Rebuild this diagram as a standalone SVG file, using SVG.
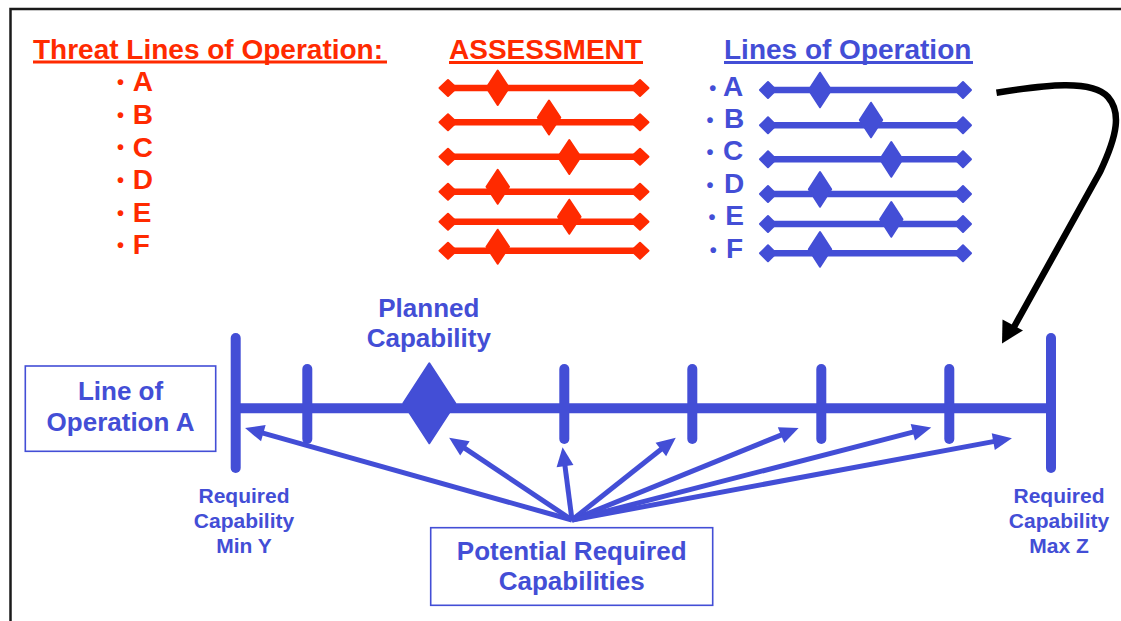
<svg xmlns="http://www.w3.org/2000/svg" width="1121" height="621" viewBox="0 0 1121 621">
<style>
text{font-family:"Liberation Sans",Arial,sans-serif;font-weight:bold}
.r{fill:#FF2A00}
.b{fill:#434ED6}
.rl{stroke:#FF2A00;stroke-width:6.5;fill:none}
.bl{stroke:#434ED6;stroke-width:6.5;fill:none}
.rd{fill:#FF2A00;stroke:#FF2A00;stroke-width:2;stroke-linejoin:round}
.bd{fill:#434ED6;stroke:#434ED6;stroke-width:2;stroke-linejoin:round}
.t{font-size:28px}
.l{font-size:28px}
.bu{font-size:20px;text-anchor:middle}
.s{font-size:21px;text-anchor:middle}
.m{font-size:26px;text-anchor:middle}
.box{fill:#fff;stroke:#434ED6;stroke-width:1.6}
.tick{stroke:#434ED6;stroke-width:10;stroke-linecap:round}
.arr{stroke:#434ED6;stroke-width:5;fill:none;marker-end:url(#ah)}
</style>
<defs>
<marker id="ah" markerUnits="userSpaceOnUse" markerWidth="19" markerHeight="17" viewBox="0 0 19 17" refX="4" refY="8.5" orient="auto" overflow="visible">
<path d="M0,0 L19,8.5 L0,17 z" fill="#434ED6"/>
</marker>
</defs>
<rect x="0" y="0" width="1121" height="621" fill="#fff"/>
<path d="M10.5,640 L10.5,9 L1130,9" fill="none" stroke="#1a1a1a" stroke-width="2.5"/>

<g id="threat-list">
<text class="r t" x="33" y="59">Threat Lines of Operation:</text>
<line x1="33" y1="62" x2="387" y2="62" stroke="#FF2A00" stroke-width="3"/>
<text class="r bu" x="120.5" y="89">•</text><text class="r l" x="132.7" y="90.7">A</text>
<text class="r bu" x="120.5" y="121.7">•</text><text class="r l" x="132.7" y="123.5">B</text>
<text class="r bu" x="120.5" y="154.4">•</text><text class="r l" x="132.7" y="156.5">C</text>
<text class="r bu" x="120.5" y="187">•</text><text class="r l" x="132.7" y="188.8">D</text>
<text class="r bu" x="120.5" y="219.7">•</text><text class="r l" x="132.7" y="221.5">E</text>
<text class="r bu" x="120.5" y="252.4">•</text><text class="r l" x="132.7" y="254.2">F</text>
</g>

<g id="assessment">
<text class="r t" x="449" y="58.5">ASSESSMENT</text>
<line x1="449" y1="62.5" x2="643" y2="62.5" stroke="#FF2A00" stroke-width="3"/>
<g id="assess-a"><line class="rl" x1="448" y1="88" x2="640" y2="88"/><polygon class="rd" points="439.5,88 448,80 456.5,88 448,96"/><polygon class="rd" points="631.5,88 640,80 648.5,88 640,96"/><polygon class="rd" points="486.5,87.7 497.7,70.5 509,87.7 497.7,105"/></g>
<g id="assess-b"><line class="rl" x1="448" y1="122.3" x2="640" y2="122.3"/><polygon class="rd" points="439.5,122.3 448,114.3 456.5,122.3 448,130.3"/><polygon class="rd" points="631.5,122.3 640,114.3 648.5,122.3 640,130.3"/><polygon class="rd" points="537.8,117.5 549,100.5 560.3,117.5 549,134.5"/></g>
<g id="assess-c"><line class="rl" x1="448" y1="156.7" x2="640" y2="156.7"/><polygon class="rd" points="439.5,156.7 448,148.7 456.5,156.7 448,164.7"/><polygon class="rd" points="631.5,156.7 640,148.7 648.5,156.7 640,164.7"/><polygon class="rd" points="558,157 569.3,140 580.6,157 569.3,174"/></g>
<g id="assess-d"><line class="rl" x1="448" y1="191.7" x2="640" y2="191.7"/><polygon class="rd" points="439.5,191.7 448,183.7 456.5,191.7 448,199.7"/><polygon class="rd" points="631.5,191.7 640,183.7 648.5,191.7 640,199.7"/><polygon class="rd" points="486.5,186.8 497.7,169.8 509,186.8 497.7,203.8"/></g>
<g id="assess-e"><line class="rl" x1="448" y1="221.7" x2="640" y2="221.7"/><polygon class="rd" points="439.5,221.7 448,213.7 456.5,221.7 448,229.7"/><polygon class="rd" points="631.5,221.7 640,213.7 648.5,221.7 640,229.7"/><polygon class="rd" points="558,216.7 569.3,199.7 580.6,216.7 569.3,233.7"/></g>
<g id="assess-f"><line class="rl" x1="448" y1="250.7" x2="640" y2="250.7"/><polygon class="rd" points="439.5,250.7 448,242.7 456.5,250.7 448,258.7"/><polygon class="rd" points="631.5,250.7 640,242.7 648.5,250.7 640,258.7"/><polygon class="rd" points="486.5,246.7 497.7,229.7 509,246.7 497.7,263.7"/></g>
</g>

<g id="lines-of-operation">
<text class="b t" x="724" y="59">Lines of Operation</text>
<line x1="724" y1="62.5" x2="973" y2="62.5" stroke="#434ED6" stroke-width="3"/>
<text class="b bu" x="712.7" y="94.5">•</text><text class="b l" x="723" y="96">A</text>
<text class="b bu" x="710" y="126.5">•</text><text class="b l" x="724" y="127.5">B</text>
<text class="b bu" x="710" y="159">•</text><text class="b l" x="723" y="160">C</text>
<text class="b bu" x="710" y="192">•</text><text class="b l" x="724" y="193.3">D</text>
<text class="b bu" x="712" y="223.5">•</text><text class="b l" x="725.3" y="225">E</text>
<text class="b bu" x="713.3" y="257">•</text><text class="b l" x="726" y="258.3">F</text>
<g id="loo-a"><line class="bl" x1="768" y1="90" x2="963" y2="90"/><polygon class="bd" points="760,90 768,82 776,90 768,98"/><polygon class="bd" points="955,90 963,82 971,90 963,98"/><polygon class="bd" points="808.8,90 820,72.7 831.2,90 820,107.3"/></g>
<g id="loo-b"><line class="bl" x1="768" y1="125.3" x2="963" y2="125.3"/><polygon class="bd" points="760,125.3 768,117.3 776,125.3 768,133.3"/><polygon class="bd" points="955,125.3 963,117.3 971,125.3 963,133.3"/><polygon class="bd" points="859.8,120 871,102.7 882.2,120 871,137.3"/></g>
<g id="loo-c"><line class="bl" x1="768" y1="159.3" x2="963" y2="159.3"/><polygon class="bd" points="760,159.3 768,151.3 776,159.3 768,167.3"/><polygon class="bd" points="955,159.3 963,151.3 971,159.3 963,167.3"/><polygon class="bd" points="880.1,159.3 891.3,142 902.5,159.3 891.3,176.6"/></g>
<g id="loo-d"><line class="bl" x1="768" y1="194" x2="963" y2="194"/><polygon class="bd" points="760,194 768,186 776,194 768,202"/><polygon class="bd" points="955,194 963,186 971,194 963,202"/><polygon class="bd" points="808.8,189.3 820,172 831.2,189.3 820,206.6"/></g>
<g id="loo-e"><line class="bl" x1="768" y1="224" x2="963" y2="224"/><polygon class="bd" points="760,224 768,216 776,224 768,232"/><polygon class="bd" points="955,224 963,216 971,224 963,232"/><polygon class="bd" points="880.1,219.3 891.3,202 902.5,219.3 891.3,236.6"/></g>
<g id="loo-f"><line class="bl" x1="768" y1="253.3" x2="963" y2="253.3"/><polygon class="bd" points="760,253.3 768,245.3 776,253.3 768,261.3"/><polygon class="bd" points="955,253.3 963,245.3 971,253.3 963,261.3"/><polygon class="bd" points="808.8,249.3 820,232 831.2,249.3 820,266.6"/></g>
</g>

<g id="line-of-operation-a-box">
<rect class="box" x="25.3" y="366" width="190.4" height="85.3"/>
<text class="b m" x="120.5" y="400">Line of</text>
<text class="b m" x="120.5" y="430.7">Operation A</text>
</g>

<g id="scale">
<line x1="235.7" y1="408.3" x2="1051" y2="408.3" stroke="#434ED6" stroke-width="10"/>
<line class="tick" x1="235.7" y1="338" x2="235.7" y2="468"/>
<line class="tick" x1="1051" y1="338" x2="1051" y2="468"/>
<line class="tick" x1="307.3" y1="369" x2="307.3" y2="439"/>
<line class="tick" x1="564.3" y1="369" x2="564.3" y2="439"/>
<line class="tick" x1="692.3" y1="369" x2="692.3" y2="439"/>
<line class="tick" x1="821.3" y1="369" x2="821.3" y2="439"/>
<line class="tick" x1="949.3" y1="369" x2="949.3" y2="439"/>
</g>

<g id="planned-capability">
<polygon class="bd" points="403.3,403.3 429.3,363.3 455.3,403.3 429.3,443.3"/>
<text class="b m" x="428.8" y="316.7">Planned</text>
<text class="b m" x="428.8" y="347.3">Capability</text>
</g>

<g id="required-min">
<text class="b s" x="244" y="503.3">Required</text>
<text class="b s" x="244" y="528.3">Capability</text>
<text class="b s" x="244" y="553.3">Min Y</text>
</g>

<g id="required-max">
<text class="b s" x="1059" y="503.3">Required</text>
<text class="b s" x="1059" y="528.3">Capability</text>
<text class="b s" x="1059" y="553.3">Max Z</text>
</g>

<g id="potential-required-capabilities">
<rect class="box" x="430.7" y="527.7" width="282" height="77.6"/>
<text class="b m" x="571.7" y="560">Potential Required</text>
<text class="b m" x="571.7" y="590">Capabilities</text>
</g>

<g id="connectors">
<line class="arr" x1="572" y1="520" x2="259.5" y2="432.1"/>
<line class="arr" x1="572" y1="520" x2="461.6" y2="446.1"/>
<line class="arr" x1="572" y1="520" x2="564.5" y2="462.2"/>
<line class="arr" x1="572" y1="520" x2="664" y2="447"/>
<line class="arr" x1="572" y1="520" x2="784.7" y2="433.6"/>
<line class="arr" x1="572" y1="520" x2="916.7" y2="431.2"/>
<line class="arr" x1="572" y1="520" x2="997.2" y2="440.9"/>
<path d="M996.5,92.7 C1045,85 1092,79 1108,97 C1121,112 1118,134 1100,172 L1014,327" fill="none" stroke="#000" stroke-width="6.5"/>
<polygon points="1002,343.5 1002.5,319.5 1023,330.5" fill="#000"/>
</g>
</svg>
